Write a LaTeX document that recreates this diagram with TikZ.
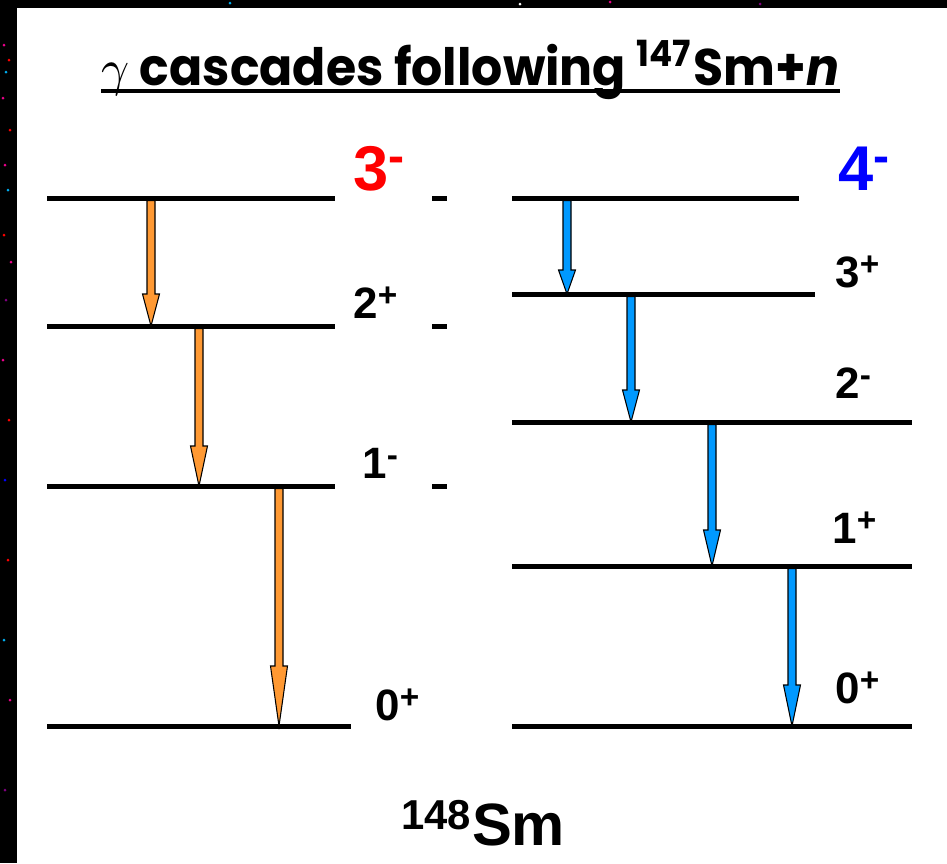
\documentclass[tikz,border=0pt]{standalone}
\usepackage{fontspec}
\setmainfont{Liberation Sans}
\newfontfamily\titlefont{Poppins}
\usetikzlibrary{calc}
\usetikzlibrary{positioning}

\definecolor{gorange}{RGB}{255,153,51}
\definecolor{gblue}{RGB}{0,153,255}

\tikzset{
  level/.style={line width=0.1cm},
  spin/.style={anchor=base west, inner sep=0pt, font=\fontsize{25}{30}\selectfont\bfseries},
  trans/.style={draw=black, line width=0.6pt, line join=miter},
}

% parity sign
\newcommand{\sgn}[1]{\raisebox{0.27em}{\scalebox{0.76}{#1}}}

% gamma ray: colour, x, upper level, lower level, head length
\newcommand{\gtrans}[5]{%
  \filldraw[trans, fill=#1] let \p1=(#2,0 |- #3), \p2=(#2,0 |- #4) in
    (\x1-0.08cm,\y1-0.05cm) -- (\x1+0.08cm,\y1-0.05cm) -- (\x1+0.08cm,\y2+#5*0.02cm)
    -- (\x1+0.17cm,\y2+#5*0.02cm) -- (\x2,\y2) -- (\x1-0.17cm,\y2+#5*0.02cm)
    -- (\x1-0.08cm,\y2+#5*0.02cm) -- cycle;}

\begin{document}
\begin{tikzpicture}[x=0.02cm, y=-0.02cm]
      \useasboundingbox (0,0) rectangle (947,863);
      \fill[white] (0,0) rectangle (947,863);
      \fill[black] (0,0) rectangle (17,863);
      \fill[black] (0,0) rectangle (947,8);
      \foreach \sx/\sy/\sc in {4/45/magenta, 9/60/red, 6/72/cyan, 3/98/magenta, 10/130/red,
                               5/165/magenta, 8/190/cyan, 4/235/red, 11/262/magenta,
                               6/300/violet, 3/360/magenta, 9/420/red, 5/480/blue,
                               8/560/red, 4/640/cyan, 10/700/magenta, 5/790/violet,
                               230/3/cyan, 520/4/white, 610/2/magenta, 760/4/violet}
        \fill[\sc] (\sx,\sy) circle (1.5);

      % title
      \node[anchor=base west, inner sep=0pt] (title) at (101,85)
        {\resizebox{14.76cm}{0.9cm}{\titlefont\bfseries $\gamma$ cascades following \textsuperscript{147}Sm+\textit{n}}};
      \draw[line width=0.08cm] ([yshift=-0.12cm]title.base west) -- ([yshift=-0.12cm]title.base east);

      % 3- cascade
      \draw[level] (47,198) coordinate (a3) -- (335,198);
      \draw[level] (47,326) coordinate (a2) -- (335,326);
      \draw[level] (47,486) coordinate (a1) -- (335,486);
      \draw[level] (47,726) coordinate (a0) -- (351,726);
      \draw[level] (432,198) -- (447,198);
      \draw[level] (432,326) -- (447,326);
      \draw[level] (432,486) -- (447,486);

      \node[spin, font=\fontsize{36}{40}\selectfont\bfseries, text=red] (sa3) at (353,190) {3\sgn{-}};
      \node[spin] (sa2) at (353,318) {2\sgn{+}};
      \node[spin] (sa1) at (362,478) {1\sgn{-}};
      \node[spin] (sa0) at (375,720) {0\sgn{+}};

      \gtrans{gorange}{151}{a3}{a2}{32}
      \gtrans{gorange}{199}{a2}{a1}{40}
      \gtrans{gorange}{279}{a1}{a0}{60}

      % 4- cascade
      \draw[level] (512,198) coordinate (b4) -- (799,198);
      \draw[level] (512,294) coordinate (b3) -- (815,294);
      \draw[level] (512,422) coordinate (b2) -- (912,422);
      \draw[level] (512,566) coordinate (b1) -- (912,566);
      \draw[level] (512,726) coordinate (b0) -- (912,726);

      \node[spin, font=\fontsize{36}{40}\selectfont\bfseries, text=blue] (sb4) at (838,190) {4\sgn{-}};
      \node[spin] (sb3) at (835,287) {3\sgn{+}};
      \node[spin] (sb2) at (835,398) {2\sgn{-}};
      \node[spin] (sb1) at (832,543) {1\sgn{+}};
      \node[spin] (sb0) at (835,703) {0\sgn{+}};

      \gtrans{gblue}{567}{b4}{b3}{24}
      \gtrans{gblue}{631}{b3}{b2}{32}
      \gtrans{gblue}{712}{b2}{b1}{36}
      \gtrans{gblue}{792}{b1}{b0}{41}

      \node[anchor=base west, inner sep=0pt, font=\fontsize{34}{40}\selectfont\bfseries] (nucl) at (401,845) {\textsuperscript{148}Sm};
\end{tikzpicture}
\end{document}
